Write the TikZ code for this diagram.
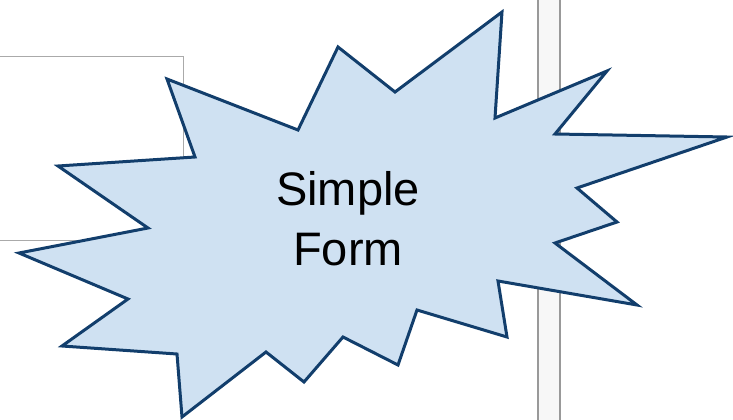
\documentclass[tikz,border=0pt]{standalone}
\usepackage{fontspec}
\setmainfont{Liberation Sans}
\usepackage{tikz}
\usetikzlibrary{positioning}
\definecolor{burstfill}{RGB}{207,225,242}
\definecolor{burstline}{RGB}{18,62,108}
\definecolor{framegray}{RGB}{170,170,170}

\begin{document}
\begin{tikzpicture}[
  x=1pt,y=-1pt,
  panel/.style={draw=framegray,line width=1pt},
  splitter/.style={draw=gray!80,line width=2pt,fill=gray!6},
  burst/.style={draw=burstline,line width=3pt,fill=burstfill,line join=miter,miter limit=10},
  label/.style={align=center,font=\fontsize{47}{60}\selectfont,text=black}
]
  \useasboundingbox (0,0) rectangle (733,420);
  \draw[panel] (-10,57) -- (183,57) -- (183,240) -- (-10,240);
  \draw[splitter] (538,-5) rectangle (560,425);
  % starburst outline
  \draw[burst] (167,79) -- (298,130) -- (338,47) -- (395,92) -- (502,12)
    -- (495,118) -- (607,71) -- (555,134) -- (727,137) -- (577,188)
    -- (617,222) -- (555,243) -- (637,305) -- (498,281) -- (507,337)
    -- (417,310) -- (398,365) -- (343,337) -- (304,382) -- (266,352)
    -- (182,417) -- (177,354) -- (62,346) -- (128,299) -- (19,253)
    -- (148,228) -- (58,166) -- (195,157) -- cycle;
  \node[label] (title) at (348,219) {Simple\\Form};
\end{tikzpicture}
\end{document}
